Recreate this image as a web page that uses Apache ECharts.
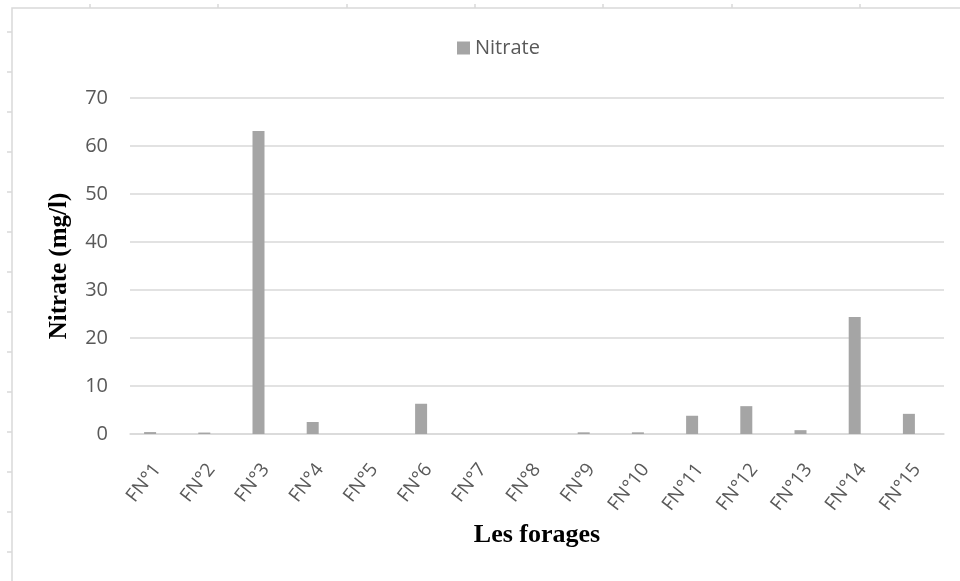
<!DOCTYPE html>
<html>
<head>
<meta charset="utf-8">
<script src="https://cdn.jsdelivr.net/npm/echarts@6/dist/echarts.min.js"></script>
<style>
  html, body { margin: 0; padding: 0; background: #fff; }
  #chart { width: 960px; height: 581px; }
</style>
</head>
<body>
<div id="chart"></div>
<script>
// forages
const categories = ["FN°1", "FN°2", "FN°3", "FN°4", "FN°5", "FN°6", "FN°7", "FN°8",
  "FN°9", "FN°10", "FN°11", "FN°12", "FN°13", "FN°14", "FN°15"];
// nitrate (mg/l)
const nitrate = [0.4, 0.3, 63.1, 2.5, 0, 6.3, 0, 0, 0.35, 0.35, 3.8, 5.8, 0.8, 24.4, 4.2];

const grey = "#595959";
const lineGrey = "#d9d9d9";

// petits traits autour du cadre
const deco = [];
[90, 218, 347, 475, 603, 732, 860].forEach((x) => {
  deco.push({ type: "line", shape: { x1: x, y1: 4, x2: x, y2: 8 }, style: { stroke: lineGrey, lineWidth: 1.5 }, silent: true });
});
[32, 72, 112, 152, 192, 232, 272, 312, 352, 392, 432, 472, 512, 552].forEach((y) => {
  deco.push({ type: "line", shape: { x1: 7, y1: y, x2: 12, y2: y }, style: { stroke: lineGrey, lineWidth: 1.5 }, silent: true });
});

const chart = echarts.init(document.getElementById("chart"));
chart.setOption({
  animation: false,
  backgroundColor: "#fff",
  graphic: [{
    type: "rect",
    shape: { x: 12, y: 8, width: 960, height: 600 },
    style: { fill: null, stroke: lineGrey, lineWidth: 1.5 },
    silent: true
  }].concat(deco),
  legend: {
    data: ["Nitrate"],
    top: 33,
    left: 452,
    itemWidth: 13,
    itemHeight: 13,
    itemGap: 4,
    icon: "rect",
    textStyle: { color: grey, fontSize: 20, fontFamily: "Open Sans" }
  },
  grid: [
    // axes et quadrillage
    { left: 130, right: 16, top: 98, bottom: 147 },
    // barres (décalées comme dans Excel)
    { left: 123, right: 24, top: 98, bottom: 147 }
  ],
  xAxis: [{
    type: "category",
    gridIndex: 0,
    data: categories,
    name: "Les forages",
    nameLocation: "middle",
    nameGap: 88,
    nameTextStyle: { fontFamily: "Liberation Serif", fontWeight: "bold", fontSize: 26, color: "#000" },
    axisLine: { lineStyle: { color: lineGrey, width: 1.5 } },
    axisTick: { show: false },
    axisLabel: {
      rotate: 52,
      interval: 0,
      color: grey,
      fontSize: 19,
      fontFamily: "Open Sans",
      margin: 32
    }
  }, {
    type: "category",
    gridIndex: 1,
    data: categories,
    show: false
  }],
  yAxis: [{
    type: "value",
    gridIndex: 0,
    min: 0,
    max: 70,
    interval: 10,
    name: "Nitrate (mg/l)",
    nameLocation: "middle",
    nameGap: 58,
    nameTextStyle: { fontFamily: "Liberation Serif", fontWeight: "bold", fontSize: 25, color: "#000" },
    axisLine: { show: false },
    axisTick: { show: false },
    axisLabel: { color: grey, fontSize: 20, fontFamily: "Open Sans", margin: 22 },
    splitLine: { lineStyle: { color: lineGrey, width: 1.5 } }
  }, {
    type: "value",
    gridIndex: 1,
    min: 0,
    max: 70,
    interval: 10,
    show: false,
    splitLine: { show: false }
  }],
  series: [{
    name: "Nitrate",
    type: "bar",
    xAxisIndex: 1,
    yAxisIndex: 1,
    data: nitrate,
    barWidth: 12,
    itemStyle: { color: "#a5a5a5" }
  }]
});
</script>
</body>
</html>
